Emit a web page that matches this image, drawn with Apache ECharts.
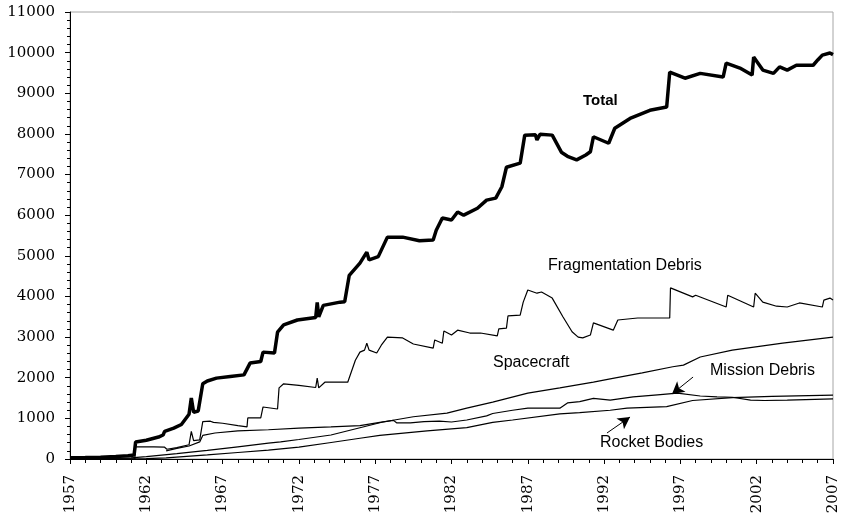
<!DOCTYPE html>
<html>
<head>
<meta charset="utf-8">
<script src="https://cdn.jsdelivr.net/npm/echarts@6.0.0/dist/echarts.min.js"></script>
<style>
    html, body {margin: 0; padding: 0; background: #fff;}
    #debris {width: 844px; height: 519px;}
</style>
</head>
<body>
<div id="debris"></div>
<script>
// [year, number of catalogued objects]
var totalData = [
    [1957.0, 30], [1958.0, 35], [1959.0, 45], [1960.0, 60], [1960.8, 80], [1961.2, 100],
    [1961.3, 420], [1962.0, 460], [1962.8, 540], [1963.1, 590], [1963.2, 680], [1963.8, 760],
    [1964.3, 850], [1964.8, 1100], [1964.95, 1500], [1965.1, 1150], [1965.4, 1180], [1965.7, 1850],
    [1966.0, 1920], [1966.6, 1990], [1967.5, 2030], [1968.4, 2070], [1968.8, 2360], [1969.5, 2400],
    [1969.65, 2630], [1970.4, 2610], [1970.6, 3120], [1971.0, 3300], [1971.9, 3420], [1972.5, 3450],
    [1973.1, 3480], [1973.2, 3850], [1973.3, 3500], [1973.6, 3780], [1974.7, 3860], [1975.0, 3870],
    [1975.3, 4520], [1976.0, 4820], [1976.45, 5090], [1976.6, 4900], [1977.2, 4980], [1977.8, 5460],
    [1978.8, 5460], [1979.9, 5370], [1980.8, 5390], [1981.0, 5630], [1981.4, 5930], [1982.0, 5880],
    [1982.4, 6080], [1982.8, 6000], [1983.7, 6170], [1984.3, 6370], [1984.9, 6420], [1985.3, 6700],
    [1985.6, 7180], [1986.5, 7280], [1986.8, 7970], [1987.5, 7980], [1987.6, 7850], [1987.8, 7990],
    [1988.6, 7970], [1989.2, 7550], [1989.6, 7450], [1990.2, 7360], [1990.8, 7480], [1991.1, 7560],
    [1991.3, 7930], [1992.3, 7770], [1992.7, 8140], [1993.7, 8380], [1995.0, 8580], [1996.1, 8660],
    [1996.3, 9520], [1997.3, 9370], [1998.3, 9490], [1999.8, 9400], [2000.0, 9740], [2000.9, 9620],
    [2001.7, 9450], [2001.8, 9890], [2002.4, 9570], [2003.1, 9490], [2003.5, 9650], [2004.0, 9570],
    [2004.6, 9690], [2005.7, 9690], [2006.0, 9820], [2006.3, 9940], [2006.8, 9990], [2007.0, 9950]
];
var fragData = [
    [1957.0, 0], [1961.25, 0], [1961.3, 300], [1962.5, 300], [1963.2, 290], [1963.35, 240],
    [1964.0, 280], [1964.8, 350], [1964.95, 680], [1965.1, 450], [1965.5, 470], [1965.7, 920],
    [1966.2, 930], [1966.4, 900], [1967.0, 880], [1968.0, 820], [1968.6, 790], [1968.65, 1010],
    [1969.5, 1010], [1969.65, 1280], [1970.6, 1230], [1970.7, 1750], [1971.0, 1850], [1972.0, 1810],
    [1973.1, 1760], [1973.2, 1990], [1973.3, 1750], [1973.7, 1890], [1975.2, 1890], [1975.7, 2430],
    [1976.0, 2630], [1976.3, 2680], [1976.45, 2850], [1976.6, 2680], [1977.1, 2610], [1977.4, 2800],
    [1977.8, 3000], [1978.8, 2980], [1979.5, 2830], [1980.8, 2730], [1980.9, 2930], [1981.4, 2850],
    [1981.5, 3150], [1982.0, 3050], [1982.4, 3170], [1983.2, 3100], [1983.9, 3100], [1985.0, 3030],
    [1985.1, 3200], [1985.6, 3220], [1985.7, 3520], [1986.5, 3540], [1986.7, 3860], [1987.0, 4160],
    [1987.6, 4080], [1987.9, 4110], [1988.6, 3960], [1989.3, 3500], [1989.9, 3130], [1990.3, 3000],
    [1990.6, 2980], [1991.1, 3050], [1991.3, 3350], [1992.6, 3170], [1992.9, 3420], [1994.2, 3470],
    [1996.3, 3470], [1996.35, 4210], [1997.8, 3990], [1998.0, 4030], [2000.0, 3740], [2000.1, 4030],
    [2001.8, 3740], [2001.9, 4080], [2002.4, 3860], [2003.3, 3760], [2004.0, 3740], [2004.8, 3840],
    [2006.3, 3740], [2006.4, 3910], [2006.8, 3960], [2007.0, 3910]
];
var spacecraftData = [
    [1957, 0], [1959, 10], [1961, 30], [1962, 60], [1964, 130], [1966, 210], [1968, 300],
    [1970, 390], [1970.8, 420], [1972, 480], [1974.1, 590], [1976, 770], [1977.5, 910],
    [1979.5, 1040], [1981.7, 1130], [1983, 1250], [1984.7, 1400], [1987, 1620], [1989.1, 1750],
    [1991.3, 1890], [1992.4, 1970], [1994.5, 2120], [1996.5, 2270], [1997.2, 2310], [1998.3, 2510],
    [2000.4, 2680], [2003.7, 2850], [2007, 3000]
];
var missionData = [
    [1963.3, 200], [1964.0, 260], [1964.8, 320], [1965.5, 420], [1965.7, 580], [1966.5, 640],
    [1968, 690], [1970, 720], [1972, 760], [1974.1, 790], [1976, 820], [1977.3, 900], [1978.2, 950],
    [1978.4, 890], [1979.3, 890], [1980.2, 920], [1981.2, 930], [1982, 910], [1983, 960],
    [1984.3, 1060], [1984.7, 1120], [1986, 1200], [1987, 1250], [1988.3, 1250], [1989.1, 1250],
    [1989.6, 1380], [1990.4, 1410], [1991.3, 1490], [1992.4, 1450], [1993.9, 1530], [1995.5, 1580],
    [1996.8, 1620], [1998.3, 1550], [1999.4, 1530], [2000.4, 1520], [2001.6, 1450], [2002.5, 1440],
    [2004, 1450], [2007, 1480]
];
var rocketData = [
    [1957, 0], [1962, 10], [1963.3, 30], [1966, 100], [1968, 160], [1970, 220], [1972, 290],
    [1974, 400], [1976, 510], [1977.3, 580], [1980.4, 690], [1983, 770], [1984.7, 900],
    [1986, 960], [1989.1, 1110], [1990.4, 1140], [1992.4, 1200], [1993.5, 1250], [1996.1, 1290],
    [1997.8, 1440], [2000.4, 1510], [2003, 1540], [2007, 1570]
];
// arrows: [from, to] in data units
var missionArrow = [[1997.83, 2017], [1996.45, 1600]];
var rocketArrow = [[1992.19, 640], [1993.70, 1033]];

var chart = echarts.init(document.getElementById('debris'));

function thin_line(name, data, arrow) {
    var s = {
        name: name,
        type: 'line',
        data: data,
        showSymbol: false,
        symbol: 'none',
        lineStyle: {color: '#000', width: 1.2},
        z: 2
    };
    if (arrow) {
        s.markLine = {
            silent: true,
            symbol: ['none', 'arrow'],
            symbolSize: [10, 12],
            label: {show: false},
            lineStyle: {color: '#000', width: 1, type: 'solid'},
            itemStyle: {color: '#000'},
            data: [[{coord: arrow[0]}, {coord: arrow[1]}]]
        };
    }
    return s;
}

var labelFont = {fontFamily: 'Liberation Sans', fontSize: 16, fill: '#000'};

var option = {
    animation: false,
    backgroundColor: '#fff',
    grid: {
        left: 70, right: 11, top: 12, bottom: 60,
        show: true, borderColor: '#a6a6a6', borderWidth: 1
    },
    xAxis: {
        type: 'value',
        min: 1957, max: 2007, interval: 5,
        axisLine: {show: true, onZero: false, lineStyle: {color: '#000', width: 1}},
        axisTick: {show: true, length: 5, lineStyle: {color: '#000'}},
        minorTick: {show: true, splitNumber: 5, length: 4, lineStyle: {color: '#000'}},
        splitLine: {show: false},
        axisLabel: {
            rotate: 90, margin: 16,
            fontFamily: 'DejaVu Serif', fontSize: 15, color: '#000',
            formatter: function (v) { return String(v); }
        }
    },
    yAxis: {
        type: 'value',
        min: 0, max: 11000, interval: 1000,
        axisLine: {show: true, lineStyle: {color: '#000', width: 1}},
        axisTick: {show: true, length: 5, lineStyle: {color: '#000'}},
        minorTick: {show: true, splitNumber: 5, length: 3, lineStyle: {color: '#000'}},
        splitLine: {show: false},
        axisLabel: {
            margin: 15, fontFamily: 'DejaVu Serif', fontSize: 15, color: '#000',
            formatter: function (v) { return String(v); }
        }
    },
    series: [
        thin_line('Rocket Bodies', rocketData, rocketArrow),
        thin_line('Mission Debris', missionData, missionArrow),
        thin_line('Spacecraft', spacecraftData),
        thin_line('Fragmentation Debris', fragData),
        {
            name: 'Total',
            type: 'line',
            data: totalData,
            showSymbol: false,
            symbol: 'none',
            lineStyle: {color: '#000', width: 3.5},
            z: 3
        }
    ],
    graphic: [
        {type: 'text', x: 583, y: 101, style: Object.assign({}, labelFont, {text: 'Total', fontSize: 15, fontWeight: 'bold', textVerticalAlign: 'middle'})},
        {type: 'text', x: 548, y: 266, style: Object.assign({}, labelFont, {text: 'Fragmentation Debris', textVerticalAlign: 'middle'})},
        {type: 'text', x: 493, y: 363, style: Object.assign({}, labelFont, {text: 'Spacecraft', textVerticalAlign: 'middle'})},
        {type: 'text', x: 710, y: 371, style: Object.assign({}, labelFont, {text: 'Mission Debris', textVerticalAlign: 'middle'})},
        {type: 'text', x: 600, y: 443, style: Object.assign({}, labelFont, {text: 'Rocket Bodies', textVerticalAlign: 'middle'})}
    ]
};
chart.setOption(option);
</script>
</body>
</html>
